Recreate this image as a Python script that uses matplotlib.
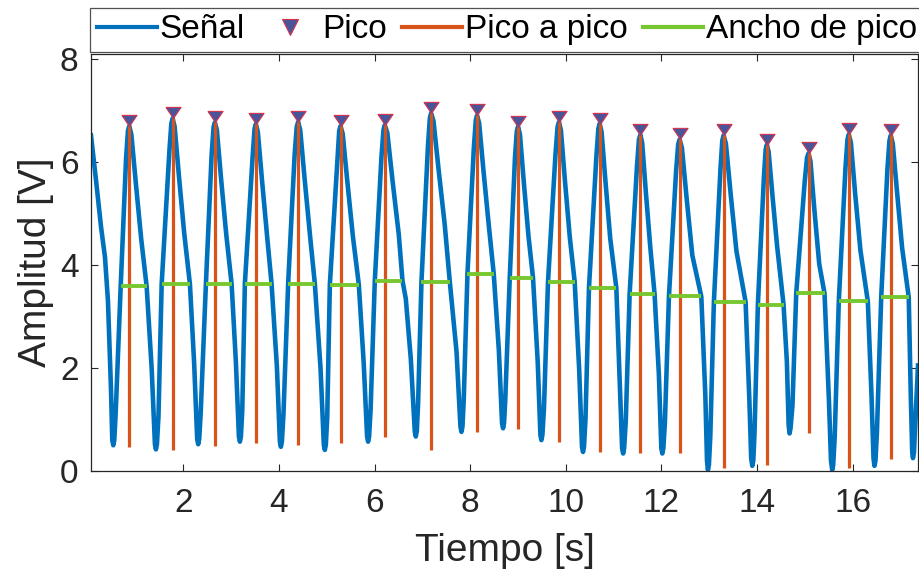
import numpy as np
import matplotlib
matplotlib.use("Agg")
import matplotlib.pyplot as plt
from matplotlib.lines import Line2D

plt.rcParams['font.family'] = ['Liberation Sans', 'DejaVu Sans']

# signal samples (time in s, amplitude in V)
signal_t = [
    0.071, 0.176, 0.280, 0.364, 0.426, 0.489, 0.516, 0.537, 0.558,
    0.587, 0.692, 0.805, 0.844, 0.871, 0.915, 1.011, 1.122, 1.235, 1.340, 1.408, 1.429, 1.450,
    1.482, 1.549, 1.710, 1.751, 1.778, 1.820, 1.912, 2.019, 2.140, 2.228, 2.292, 2.313, 2.334,
    2.366, 2.474, 2.594, 2.635, 2.662, 2.704, 2.794, 2.899, 3.012, 3.101, 3.164, 3.185, 3.206,
    3.235, 3.289, 3.452, 3.492, 3.519, 3.561, 3.651, 3.755, 3.847, 3.958, 4.021, 4.042, 4.063,
    4.096, 4.194, 4.330, 4.374, 4.403, 4.447, 4.543, 4.654, 4.752, 4.871, 4.940, 4.961, 4.982,
    5.011, 5.066, 5.225, 5.262, 5.289, 5.335, 5.434, 5.549, 5.672, 5.774, 5.845, 5.866, 5.887,
    5.918, 6.006, 6.146, 6.188, 6.215, 6.268, 6.378, 6.507, 6.585, 6.654, 6.759, 6.842, 6.863, 6.884,
    6.911, 6.982, 7.118, 7.158, 7.183, 7.233, 7.342, 7.469, 7.574, 7.716, 7.797, 7.818, 7.839,
    7.866, 7.944, 8.079, 8.119, 8.144, 8.188, 8.280, 8.389, 8.493, 8.600, 8.667, 8.688, 8.709,
    8.736, 8.828, 8.938, 8.976, 9.001, 9.041, 9.124, 9.220, 9.315, 9.413, 9.469, 9.490, 9.511,
    9.544, 9.628, 9.785, 9.829, 9.858, 9.898, 9.983, 10.084, 10.186, 10.280, 10.339, 10.360, 10.381,
    10.412, 10.485, 10.640, 10.681, 10.708, 10.748, 10.832, 10.930, 11.057, 11.120, 11.178, 11.199, 11.220,
    11.254, 11.335, 11.488, 11.530, 11.559, 11.597, 11.674, 11.766, 11.857, 11.946, 11.998, 12.019, 12.040,
    12.073, 12.157, 12.307, 12.351, 12.380, 12.428, 12.529, 12.646, 12.834, 12.919, 12.953, 12.972, 12.993,
    13.022, 13.097, 13.235, 13.273, 13.300, 13.348, 13.450, 13.569, 13.760, 13.839, 13.877, 13.900, 13.921,
    13.946, 14.017, 14.144, 14.180, 14.205, 14.242, 14.324, 14.418, 14.554, 14.623, 14.660, 14.679, 14.700,
    14.740, 14.819, 14.997, 15.045, 15.076, 15.116, 15.200, 15.300, 15.411, 15.503, 15.546, 15.571, 15.592,
    15.624, 15.709, 15.849, 15.891, 15.918, 15.962, 16.052, 16.161, 16.316, 16.391, 16.435, 16.455, 16.476,
    16.506, 16.596, 16.727, 16.769, 16.796, 16.838, 16.930, 17.034, 17.172, 17.215, 17.245, 17.260, 17.281,
    17.365,
]
signal_v = [
    6.52, 5.65, 4.75, 4.15, 3.30, 1.60, 0.60, 0.50, 0.60,
    1.12, 3.585, 6.08, 6.61, 6.70, 6.54, 5.57, 4.50, 3.585, 1.99, 0.52, 0.42, 0.52,
    1.06, 3.63, 6.21, 6.75, 6.85, 6.69, 5.71, 4.63, 3.63, 2.10, 0.62, 0.52, 0.62,
    1.15, 3.63, 6.15, 6.68, 6.77, 6.62, 5.65, 4.60, 3.63, 2.12, 0.67, 0.57, 0.67,
    1.19, 3.64, 6.12, 6.65, 6.74, 6.58, 5.61, 4.55, 3.64, 2.04, 0.57, 0.47, 0.57,
    1.10, 3.64, 6.15, 6.69, 6.78, 6.62, 5.63, 4.55, 3.64, 2.00, 0.51, 0.41, 0.51,
    1.04, 3.62, 6.07, 6.61, 6.70, 6.55, 5.60, 4.55, 3.62, 2.10, 0.67, 0.57, 0.67,
    1.19, 3.695, 6.11, 6.63, 6.72, 6.57, 5.63, 4.60, 3.695, 3.35, 2.18, 0.77, 0.67, 0.77,
    1.30, 3.68, 6.32, 6.86, 6.95, 6.80, 5.84, 4.78, 3.68, 2.31, 0.86, 0.76, 0.86,
    1.38, 3.835, 6.30, 6.82, 6.91, 6.76, 5.82, 4.78, 3.835, 2.35, 0.93, 0.83, 0.93,
    1.42, 3.75, 6.10, 6.60, 6.69, 6.54, 5.59, 4.56, 3.75, 2.12, 0.70, 0.60, 0.70,
    1.22, 3.675, 6.16, 6.69, 6.78, 6.62, 5.63, 4.54, 3.675, 1.97, 0.47, 0.37, 0.47,
    1.01, 3.56, 6.11, 6.65, 6.75, 6.59, 5.60, 4.51, 3.56, 1.94, 0.44, 0.34, 0.44,
    0.96, 3.435, 5.91, 6.44, 6.53, 6.38, 5.42, 4.36, 3.435, 1.89, 0.44, 0.34, 0.44,
    0.95, 3.39, 5.83, 6.35, 6.44, 6.28, 5.28, 4.19, 3.39, 1.45, 0.20, 0.02, 0.12,
    0.67, 3.285, 5.87, 6.42, 6.52, 6.36, 5.36, 4.27, 3.285, 1.38, 0.25, 0.10, 0.20,
    0.72, 3.23, 5.72, 6.25, 6.34, 6.20, 5.33, 4.38, 3.23, 2.13, 0.90, 0.73, 0.83,
    1.27, 3.45, 5.63, 6.09, 6.17, 6.02, 5.06, 4.02, 3.45, 1.37, 0.20, 0.02, 0.12,
    0.67, 3.295, 5.89, 6.44, 6.54, 6.38, 5.38, 4.29, 3.295, 1.52, 0.25, 0.10, 0.20,
    0.74, 3.375, 5.88, 6.42, 6.52, 6.36, 5.39, 4.33, 3.375, 1.45, 0.35, 0.25, 0.36,
    2.05,
]

# detected peaks
peak_t = [0.871, 1.778, 2.662, 3.519, 4.403, 5.289, 6.215, 7.183, 8.144, 9.001,
          9.858, 10.708, 11.559, 12.380, 13.300, 14.205, 15.076, 15.918, 16.796]
peak_v = [6.70, 6.85, 6.77, 6.74, 6.78, 6.70, 6.72, 6.95, 6.91, 6.69,
          6.78, 6.75, 6.53, 6.44, 6.52, 6.34, 6.17, 6.54, 6.52]
# lower end of each peak-to-peak line
base_v = [0.47, 0.41, 0.49, 0.54, 0.50, 0.54, 0.67, 0.41, 0.76, 0.81,
          0.57, 0.37, 0.34, 0.34, 0.05, 0.12, 0.73, 0.05, 0.23]
# peak width limits at half height
width_l = [0.692, 1.549, 2.474, 3.289, 4.194, 5.066, 6.006, 6.982, 7.944, 8.828,
           9.628, 10.485, 11.335, 12.157, 13.097, 14.017, 14.819, 15.709, 16.596]
width_r = [1.235, 2.140, 3.012, 3.847, 4.752, 5.672, 6.585, 7.574, 8.493, 9.315,
           10.186, 11.057, 11.857, 12.834, 13.760, 14.554, 15.411, 16.316, 17.172]

blue = '#0072BD'
orange = '#D95319'
green = '#77C830'
dark = '#262626'

peak_v = np.array(peak_v)
base_v = np.array(base_v)
half_v = (peak_v + base_v) / 2

fig = plt.figure(figsize=(9.2, 5.84), dpi=100)
ax = fig.add_axes([0.0989, 0.1935, 0.8989, 0.714])

ax.plot(signal_t, signal_v, color=blue, lw=3.3, solid_joinstyle='round', zorder=2)
ax.vlines(peak_t, base_v, peak_v, color=orange, lw=2.3, zorder=3)
ax.hlines(half_v, width_l, width_r, color=green, lw=2.8, zorder=4)

# downward triangle with its tip on the peak
tri = [(-7.5, 11), (7.5, 11), (0, 0), (-7.5, 11)]
ax.plot(peak_t, peak_v, ls='none', marker=tri, ms=16, mfc='#4a5499', mec='#d8324c',
        mew=0.8, zorder=5)

ax.set_xlim(0.071, 17.365)
ax.set_ylim(0, 8.1)
ax.set_xticks([2, 4, 6, 8, 10, 12, 14, 16])
ax.set_yticks([0, 2, 4, 6, 8])
ax.tick_params(direction='in', length=5, width=0.8, colors=dark, labelsize=24,
               top=True, right=True, pad=9)
ax.tick_params(axis='x', pad=12)
for s in ax.spines.values():
    s.set_color(dark)
    s.set_linewidth(0.9)

ax.set_xlabel('Tiempo [s]', fontsize=28, color=dark, labelpad=10)
ax.set_ylabel('Amplitud [V]', fontsize=28, color=dark, labelpad=4)

handles = [
    Line2D([], [], color=blue, lw=3.0),
    Line2D([], [], ls='none', marker='v', ms=11, mfc='#4a5499', mec='#d8324c', mew=0.8),
    Line2D([], [], color=orange, lw=3.0),
    Line2D([], [], color=green, lw=3.0),
]
labels = ['Señal', 'Pico', 'Pico a pico', 'Ancho de pico']
leg = fig.legend(handles, labels, loc='lower center', bbox_to_anchor=(0.551, 0.911),
                 ncol=4, fontsize=24, frameon=True, fancybox=False, handlelength=1.8,
                 handletextpad=0.08, columnspacing=0.45, borderpad=0.2,
                 borderaxespad=0)
leg.get_frame().set_edgecolor(dark)
leg.get_frame().set_linewidth(0.9)
for t in leg.get_texts():
    t.set_color('black')

fig.savefig('out.png', dpi=100)
